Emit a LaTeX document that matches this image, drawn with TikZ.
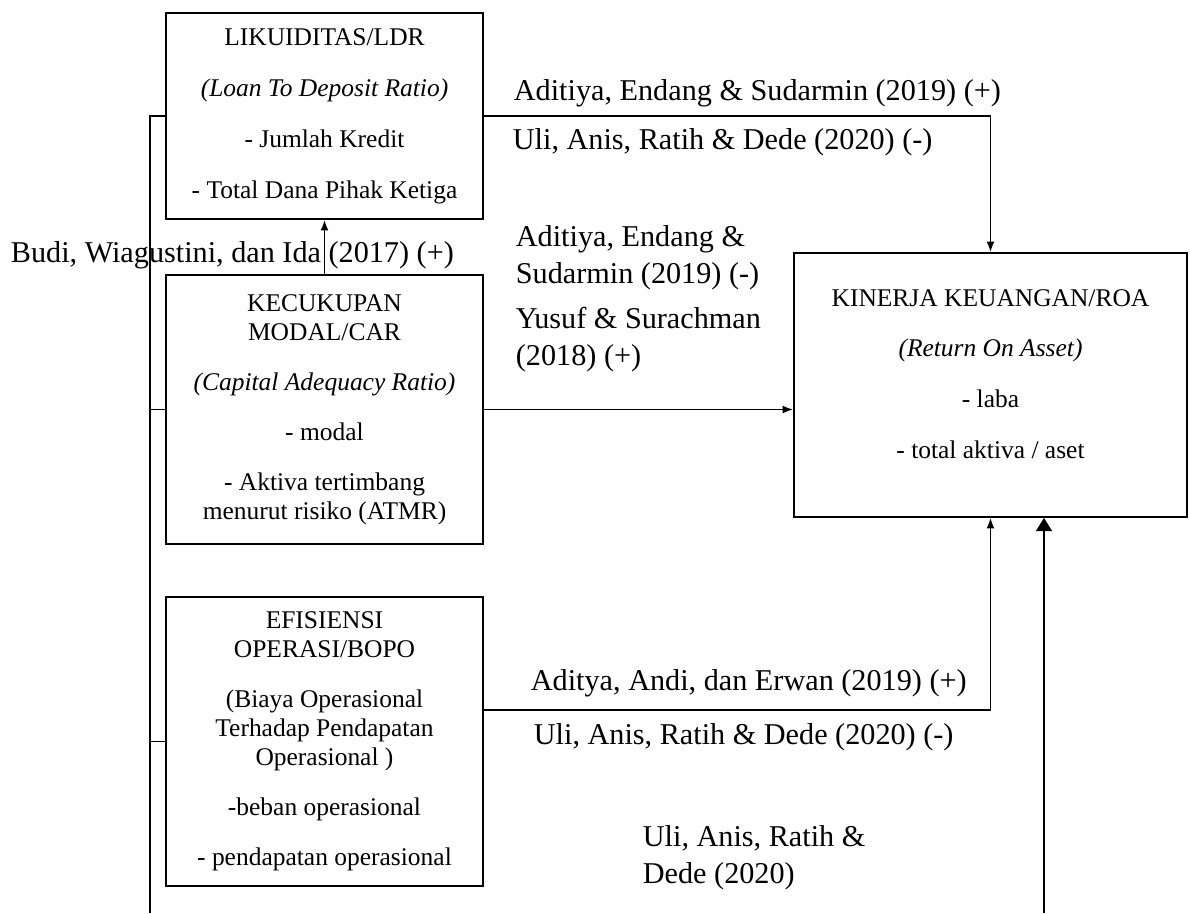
\documentclass[tikz,border=0pt]{standalone}
\usepackage{fontspec}
\setmainfont{Liberation Serif}
\usetikzlibrary{arrows.meta}

\begin{document}
\begin{tikzpicture}[x=0.02cm,y=-0.02cm,line width=1pt,
  varbox/.style={draw,align=center,inner sep=2pt,minimum width=6.34cm,
    font=\fontsize{14.5}{16.5}\selectfont},
  reflabel/.style={anchor=west,align=left,inner sep=0pt,
    font=\fontsize{17.2}{21}\selectfont},
  link/.style={-{Latex[length=6pt,width=4.5pt]}}]
  \useasboundingbox (0,0) rectangle (1190,913);
  % independent variables
  \node[varbox,minimum height=4.12cm] (ldr) at (324.5,116)
    {LIKUIDITAS/LDR\\[12.5pt] \textit{(Loan To Deposit Ratio)}\\[12.5pt]
     - Jumlah Kredit\\[12.5pt] - Total Dana Pihak Ketiga};
  \node[varbox,minimum height=5.38cm] (car) at (324.5,409.5)
    {KECUKUPAN\\MODAL/CAR\\[12pt] \textit{(Capital Adequacy Ratio)}\\[12pt]
     - modal\\[12pt] - Aktiva tertimbang\\menurut risiko (ATMR)};
  \node[varbox,minimum height=5.78cm] (bopo) at (324.5,741.5)
    {EFISIENSI\\OPERASI/BOPO\\[12pt] (Biaya Operasional\\Terhadap Pendapatan\\Operasional )\\[12pt]
     -beban operasional\\[12pt] - pendapatan operasional};
  % dependent variable
  \node[varbox,minimum width=7.86cm,minimum height=5.28cm] (roa) at (990.5,385)
    {KINERJA KEUANGAN/ROA\\[12.5pt] \textit{(Return On Asset)}\\[12.5pt]
     - laba\\[12.5pt] - total aktiva / aset\\[-4pt]\mbox{}};
  % references
  \node[reflabel] (refldra) at (513,93) {Aditiya, Endang \& Sudarmin (2019) (+)};
  \node[reflabel] (refldrb) at (512,142) {Uli, Anis, Ratih \& Dede (2020) (-)};
  \node[reflabel] (refcara) at (515,258) {Aditiya, Endang \&\\Sudarmin (2019) (-)};
  \node[reflabel] (refcarb) at (515,340) {Yusuf \& Surachman\\(2018) (+)};
  \node[reflabel] (refcarldr) at (10,255) {Budi, Wiagustini, dan Ida (2017) (+)};
  \node[reflabel] (refbopoa) at (530,683) {Aditya, Andi, dan Erwan (2019) (+)};
  \node[reflabel] (refbopob) at (533,737) {Uli, Anis, Ratih \& Dede (2020) (-)};
  \node[reflabel] (refjoint) at (642,858) {Uli, Anis, Ratih \&\\Dede (2020)};
  % connectors
  \coordinate (busend) at (150,913);
  \coordinate (jointend) at (1044,913);
  \draw (ldr.west) -| (busend);
  \draw (car.west) -- (car.west -| busend);
  \draw (bopo.west) -- (bopo.west -| busend);
  \draw[link] (car.north) -- (ldr.south);
  \draw[link] (ldr.east) -| (roa.north);
  \draw[link] (car.east) -- (car.east -| roa.west);
  \draw[link] ([yshift=0.63cm]bopo.east) -| (roa.south);
  \draw[-{Triangle[length=7.5pt,width=9pt]}] (jointend) -- (jointend |- roa.south);
\end{tikzpicture}
\end{document}
